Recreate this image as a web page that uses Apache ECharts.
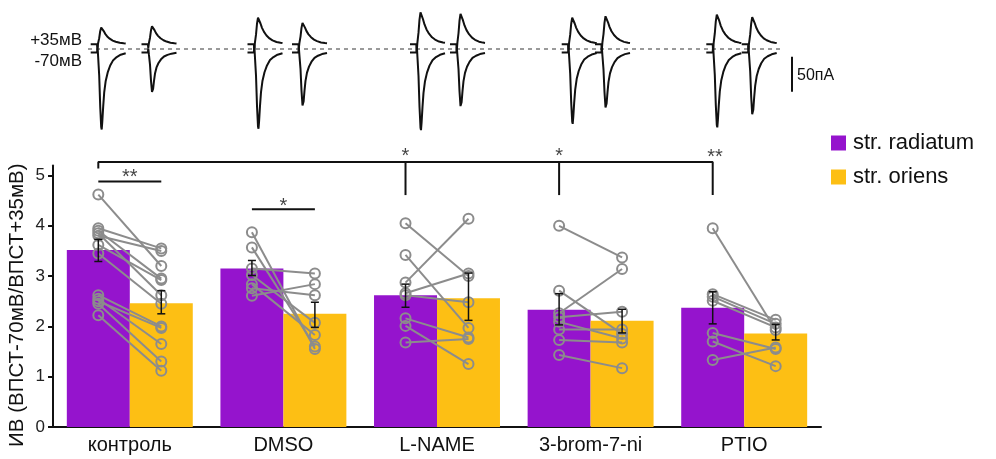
<!DOCTYPE html>
<html>
<head>
<meta charset="utf-8">
<script src="https://cdn.jsdelivr.net/npm/echarts@6/dist/echarts.min.js"></script>
<style>
  html, body { margin: 0; padding: 0; background: #fff; }
  #chart { width: 996px; height: 459px; }
</style>
</head>
<body>
<div id="chart"></div>
<script>
// --- data ---
const categories = ['контроль', 'DMSO', 'L-NAME', '3-brom-7-ni', 'PTIO']
const radiatumMean = [3.52, 3.15, 2.62, 2.33, 2.37]
const oriensMean = [2.46, 2.25, 2.56, 2.11, 1.86]
const radiatumErr = [[3.29, 3.73], [3.01, 3.31], [2.38, 2.84], [2.03, 2.65], [2.05, 2.69]]
const oriensErr = [[2.25, 2.71], [1.98, 2.48], [2.12, 3.06], [1.87, 2.34], [1.73, 2.04]]
const yTicks = [0, 1, 2, 3, 4, 5]

// single cells, [str. radiatum, str. oriens]
const pairsControl = [[4.62, 3.20], [3.95, 3.55], [3.90, 2.95], [3.85, 2.62], [3.80, 3.50], [3.62, 2.92],
  [3.45, 2.45], [2.62, 2.00], [2.55, 1.65], [2.50, 1.97], [2.45, 1.30], [2.22, 1.12]]
const pairsDmso = [[3.87, 1.55], [3.57, 1.60], [3.15, 3.05], [3.02, 2.07], [2.84, 1.83], [2.76, 2.62], [2.61, 2.84]]
const pairsLname = [[4.05, 3.00], [3.42, 1.97], [2.87, 4.14], [2.66, 3.05], [2.62, 2.48], [2.16, 1.78], [2.01, 1.25], [1.68, 1.75]]
const pairsBrom = [[4.00, 3.37], [2.71, 1.85], [2.26, 3.14], [2.18, 2.29], [2.09, 1.76], [1.94, 1.94], [1.73, 1.68], [1.43, 1.17]]
const pairsPtio = [[3.95, 1.93], [2.64, 2.13], [2.59, 2.05], [2.51, 1.98], [1.87, 1.55], [1.70, 1.21], [1.33, 1.58]]
const pairsAll = [pairsControl, pairsDmso, pairsLname, pairsBrom, pairsPtio]

// significance marks: polylines in [x (category units), y] and star labels
const brackets = [
  [[-0.205, 5.14], [-0.205, 5.27], [3.795, 5.27], [3.795, 4.61]],
  [[1.795, 5.27], [1.795, 4.61]],
  [[2.795, 5.27], [2.795, 4.61]],
  [[-0.205, 4.88], [0.205, 4.88]],
  [[0.795, 4.33], [1.205, 4.33]]
]
const stars = [['**', 0, 4.95], ['*', 1, 4.39], ['*', 1.795, 5.37], ['*', 2.795, 5.37], ['**', 3.81, 5.36]]

// recordings on top: start of each trace (ms), peak amplitudes (pA)
const traceStart = [90.7, 141.5, 247.5, 292, 410, 450, 561.7, 595, 706.3, 741.7]
const outwardAmp = [24.6, 26.4, 38.9, 31.1, 46.9, 44.6, 38.9, 41.1, 43.6, 39.7]
const inwardAmp = [110, 58, 109, 78, 111, 79, 102, 81, 107, 91]
const outwardBase = 6.9
const inwardBase = -4.9
// averaged waveform shape [ms, fraction of peak]
const outwardShape = [[0, 0], [6.4, 0], [6.8, -0.2], [7.4, 0.05], [8.5, 0.35], [9.5, 0.75], [10.5, 0.97], [11, 1],
  [11.8, 0.92], [13, 0.76], [14.5, 0.6], [16.5, 0.45], [19, 0.32], [22, 0.21], [25, 0.14], [29, 0.08], [33, 0.05], [35, 0.04]]
const inwardShape = [[0, 0], [6.4, 0], [6.8, 0.1], [7.4, -0.05], [8.5, -0.3], [9.5, -0.7], [10.5, -0.97], [11, -1],
  [11.6, -0.9], [12.5, -0.7], [13.5, -0.52], [15, -0.37], [17, -0.26], [19.5, -0.17], [22.5, -0.1], [26, -0.06], [30, -0.03], [35, -0.01]]
const holdLine = [[88, 0], [780, 0]]
const scaleBar = [[792, -11], [792, -61]]

const purple = '#9514cd'
const yellow = '#fdbf14'
const grey = '#8c8c8c'
const off = 0.205
const font = 'Liberation Sans, Arial, sans-serif'

let chart = echarts.init(document.getElementById('chart'))

let series = [
  {
    name: 'str. radiatum', type: 'bar', data: radiatumMean,
    itemStyle: {color: purple}, barGap: '0%', barCategoryGap: '18%', z: 1
  },
  {
    name: 'str. oriens', type: 'bar', data: oriensMean,
    itemStyle: {color: yellow}, z: 1
  }
]

pairsAll.forEach(function (group, i) {
  group.forEach(function (p) {
    series.push({
      type: 'line', xAxisIndex: 1, yAxisIndex: 0, silent: true, z: 3,
      data: [[i - off, p[0]], [i + off, p[1]]],
      symbol: 'circle', symbolSize: 10, showSymbol: true,
      itemStyle: {color: 'rgba(255,255,255,0)', borderColor: grey, borderWidth: 2},
      lineStyle: {color: grey, width: 2}
    })
  })
})

let errData = []
radiatumErr.forEach(function (e, i) { errData.push([i - off, e[0], e[1]]) })
oriensErr.forEach(function (e, i) { errData.push([i + off, e[0], e[1]]) })
series.push({
  type: 'custom', xAxisIndex: 1, yAxisIndex: 0, silent: true, z: 5,
  data: errData,
  renderItem: function (params, api) {
    let lo = api.coord([api.value(0), api.value(1)])
    let hi = api.coord([api.value(0), api.value(2)])
    let w = 4
    let st = {stroke: '#111', lineWidth: 1.5}
    return {
      type: 'group',
      children: [
        {type: 'line', shape: {x1: lo[0], y1: lo[1], x2: hi[0], y2: hi[1]}, style: st},
        {type: 'line', shape: {x1: lo[0] - w, y1: lo[1], x2: lo[0] + w, y2: lo[1]}, style: st},
        {type: 'line', shape: {x1: hi[0] - w, y1: hi[1], x2: hi[0] + w, y2: hi[1]}, style: st}
      ]
    }
  }
})

brackets.forEach(function (b) {
  series.push({
    type: 'line', xAxisIndex: 1, yAxisIndex: 0, data: b, symbol: 'none', clip: false,
    silent: true, z: 4, lineStyle: {color: '#111', width: 2}
  })
})

series.push({
  type: 'scatter', xAxisIndex: 1, yAxisIndex: 0, clip: false, silent: true, z: 6,
  symbolSize: 0,
  data: stars.map(function (s) { return {name: s[0], value: [s[1], s[2]]} }),
  label: {
    show: true, position: 'inside', formatter: '{b}',
    fontSize: 20, color: '#111', fontFamily: font
  }
})

// recordings
series.push({
  type: 'line', xAxisIndex: 2, yAxisIndex: 1, data: holdLine, symbol: 'none', silent: true,
  lineStyle: {color: '#9a9a9a', width: 2, type: [4, 4]}
})
series.push({
  type: 'line', xAxisIndex: 2, yAxisIndex: 1, data: scaleBar, symbol: 'none', silent: true,
  lineStyle: {color: '#111', width: 2}
})
traceStart.forEach(function (t0, k) {
  series.push({
    type: 'line', xAxisIndex: 2, yAxisIndex: 1, symbol: 'none', silent: true, z: 3,
    data: outwardShape.map(function (p) { return [t0 + p[0], outwardBase + p[1] * outwardAmp[k]] }),
    lineStyle: {color: '#111', width: 2}
  })
  series.push({
    type: 'line', xAxisIndex: 2, yAxisIndex: 1, symbol: 'none', silent: true, z: 3,
    data: inwardShape.map(function (p) { return [t0 + p[0], inwardBase + p[1] * inwardAmp[k]] }),
    lineStyle: {color: '#111', width: 2}
  })
})

let options = {
  animation: false,
  textStyle: {fontFamily: font},
  legend: {
    data: ['str. radiatum', 'str. oriens'],
    orient: 'vertical', left: 826, top: 127,
    icon: 'rect', itemWidth: 15, itemHeight: 15, itemGap: 12,
    textStyle: {fontSize: 22, color: '#111', fontFamily: font, padding: [0, 0, 0, 2]}
  },
  grid: [
    {left: 53, right: 175, top: 165.4, bottom: 32, outerBoundsMode: 'none'},
    {left: 0, right: 0, top: 0, height: 140, outerBoundsMode: 'none'}
  ],
  xAxis: [
    {
      type: 'category', gridIndex: 0, data: categories,
      axisLine: {lineStyle: {color: '#111', width: 2}},
      axisTick: {show: false},
      axisLabel: {fontSize: 20, color: '#111', margin: 8, fontFamily: font}
    },
    {type: 'value', gridIndex: 0, min: -0.5, max: 4.5, show: false},
    {type: 'value', gridIndex: 1, min: 0, max: 996, show: false}
  ],
  yAxis: [
    {
      type: 'value', gridIndex: 0, min: 0, max: 5.2,
      axisLine: {show: true, onZero: false, lineStyle: {color: '#111', width: 2}},
      axisTick: {show: true, length: 5, lineStyle: {color: '#111', width: 2}, customValues: yTicks},
      axisLabel: {fontSize: 17, color: '#222', margin: 8, customValues: yTicks, fontFamily: font},
      splitLine: {show: false},
      name: 'ИВ (ВПСТ-70мВ/ВПСТ+35мВ)',
      nameLocation: 'middle', nameGap: 25, nameMoveOverlap: false,
      nameTextStyle: {fontSize: 20.5, color: '#111', fontFamily: font, padding: [0, 18, 0, 0]}
    },
    {type: 'value', gridIndex: 1, min: -130, max: 70, show: false}
  ],
  graphic: [
    {type: 'text', right: 996 - 82, top: 32, style: {text: '+35мВ', fontSize: 17, fill: '#111', fontFamily: font}},
    {type: 'text', right: 996 - 82, top: 53, style: {text: '-70мВ', fontSize: 17, fill: '#111', fontFamily: font}},
    {type: 'text', left: 797, top: 68, style: {text: '50пА', fontSize: 16, fill: '#111', fontFamily: font}}
  ],
  series: series
}

chart.setOption(options)
window.addEventListener('resize', function () {
  chart.resize()
})
</script>
</body>
</html>
